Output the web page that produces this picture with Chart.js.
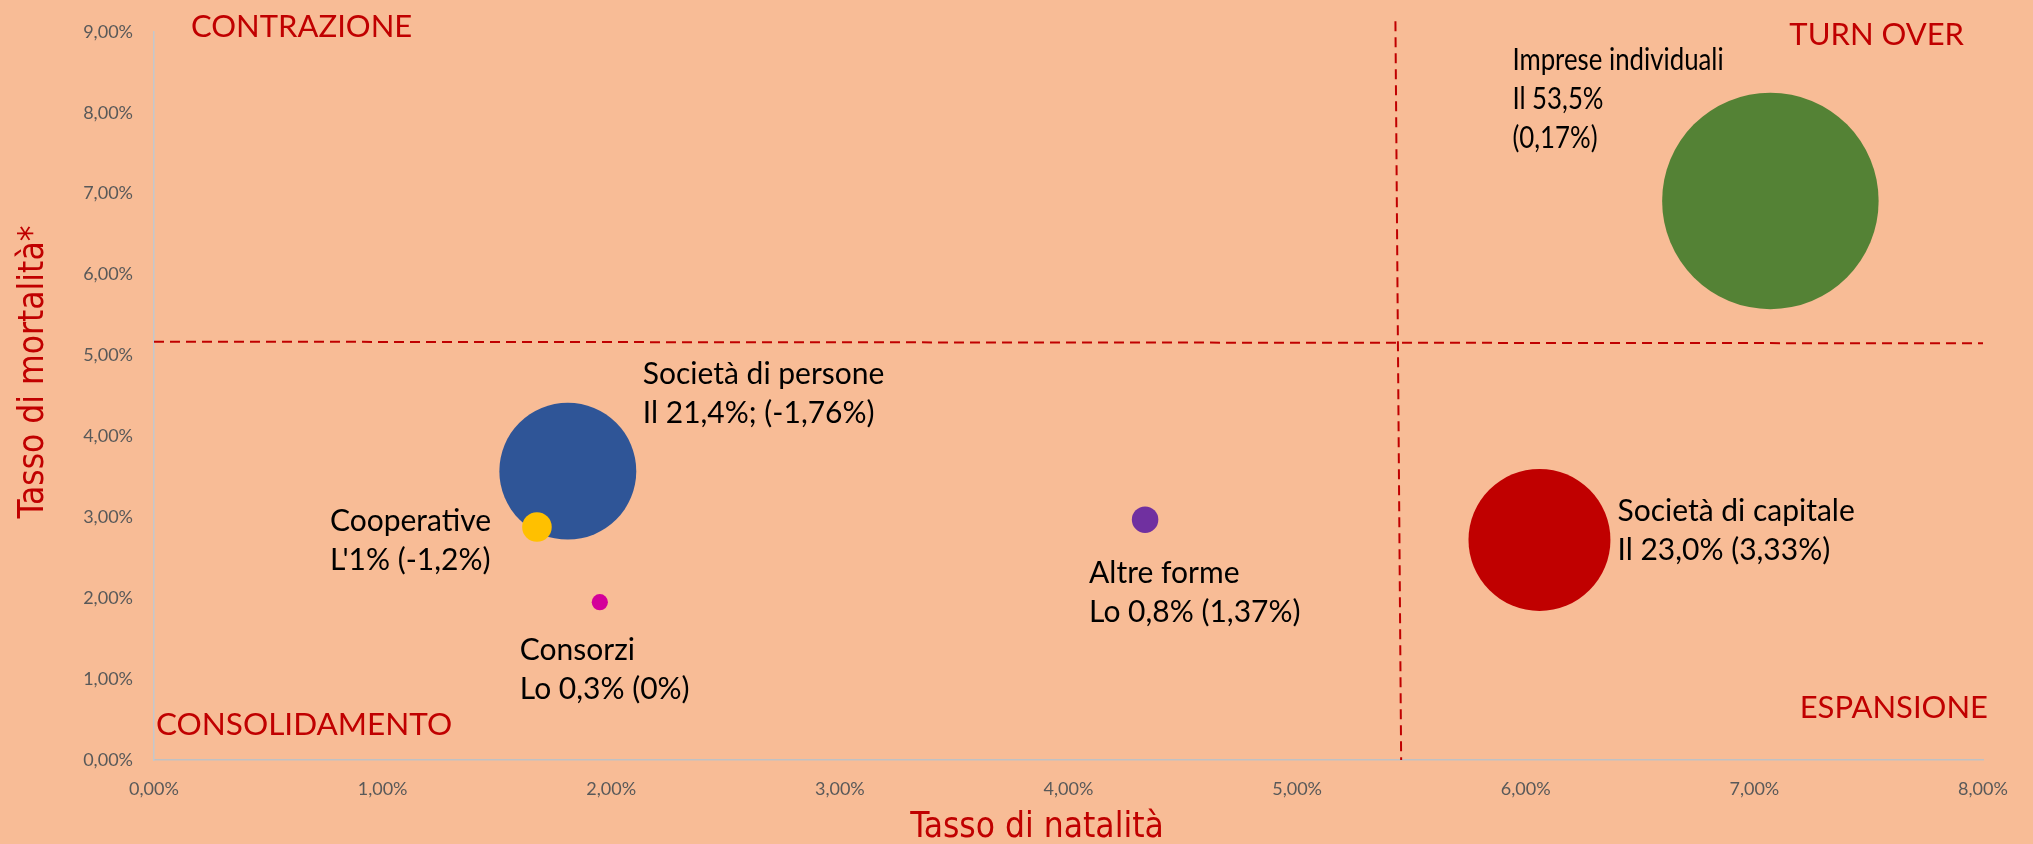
<!DOCTYPE html>
<html>
<head>
<meta charset="utf-8">
<script src="https://cdn.jsdelivr.net/npm/chart.js@4/dist/chart.umd.min.js"></script>
<style>
  html, body { margin: 0; padding: 0; background: #f8bc96; }
  #wrap { width: 2033px; height: 844px; }
</style>
</head>
<body>
<div id="wrap"><canvas id="chart"></canvas></div>
<script>
// forme giuridiche (bubble), tasso di natalità (x), tasso di mortalità (y), quota (size)
const categories = ['Imprese individuali', 'Società di persone', 'Società di capitale', 'Cooperative', 'Consorzi', 'Altre forme'];
const natalita = [7.07, 1.81, 6.06, 1.675, 1.95, 4.335];
const mortalita = [6.91, 3.57, 2.72, 2.88, 1.95, 2.97];
const quota = [53.5, 21.4, 23.0, 1, 0.3, 0.8];
const colors = ['#548235', '#2f5597', '#c00000', '#ffc000', '#d4009a', '#7030a0'];
const labelLines = [
    ['Imprese individuali', 'Il 53,5%', '(0,17%)'],
    ['Società di persone', 'Il 21,4%; (-1,76%)'],
    ['Società di capitale', 'Il 23,0% (3,33%)'],
    ['Cooperative', "L'1% (-1,2%)"],
    ['Consorzi', 'Lo 0,3% (0%)'],
    ['Altre forme', 'Lo 0,8% (1,37%)'],
];
// linee di separazione dei quadranti
const dividerV = [{ x: 5.43, y: 9.13 }, { x: 5.455, y: 0 }];
const dividerH = [{ x: 0, y: 5.17 }, { x: 8, y: 5.15 }];
const xTicks = [0, 1, 2, 3, 4, 5, 6, 7, 8];
const yTicks = [0, 1, 2, 3, 4, 5, 6, 7, 8, 9];

const RED = '#c00000';
const pct = (v) => v.toFixed(2).replace('.', ',') + '%';

// text offsets from bubble centre (left, first baseline) and horizontal squeeze
const labelOffsets = [[-258, -131], [75, -87], [78, -19], [-207, 4], [-80, 58], [-56, 63]];
const labelStretch = [0.86, 1, 1, 1, 1, 1];

const annotations = {
    id: 'annotations',
    afterDatasetsDraw(chart) {
        const { ctx, chartArea } = chart;
        const meta = chart.getDatasetMeta(2);
        ctx.save();
        ctx.fillStyle = '#000';
        ctx.textAlign = 'left';
        ctx.textBaseline = 'alphabetic';
        ctx.font = '30px Lato';
        meta.data.forEach((pt, i) => {
            const [dx, dy] = labelOffsets[i];
            ctx.save();
            ctx.translate(pt.x + dx, pt.y + dy);
            ctx.scale(labelStretch[i], 1);
            labelLines[i].forEach((line, j) => ctx.fillText(line, 0, j * 39));
            ctx.restore();
        });

        ctx.fillStyle = RED;
        ctx.font = '31px Lato';
        ctx.fillText('CONTRAZIONE', chartArea.left + 37, 37);
        ctx.font = '31.5px Lato';
        ctx.fillText('CONSOLIDAMENTO', chartArea.left + 2, 735);
        ctx.font = '31px Lato';
        ctx.textAlign = 'right';
        ctx.fillText('TURN OVER', 1964, 45);
        ctx.fillText('ESPANSIONE', 1988, 718);

        // axis titles
        ctx.font = '35px "Liberation Sans Narrow", "DejaVu Sans Condensed", sans-serif';
        ctx.textAlign = 'center';
        ctx.textBaseline = 'middle';
        ctx.fillText('Tasso di natalità', 1037, 828);
        ctx.translate(34, 372);
        ctx.rotate(-Math.PI / 2);
        ctx.fillText('Tasso di mortalità*', 0, 0);
        ctx.restore();
    }
};

const dashed = {
    type: 'line',
    borderColor: RED,
    borderWidth: 2,
    borderDash: [10, 6],
    pointRadius: 0,
    fill: false,
    clip: false,
};

new Chart(document.getElementById('chart'), {
    type: 'bubble',
    data: {
        datasets: [
            { ...dashed, data: dividerH },
            { ...dashed, data: dividerV },
            {
                label: 'Forme giuridiche',
                data: categories.map((c, i) => ({ x: natalita[i], y: mortalita[i] })),
                backgroundColor: colors,
                hoverBackgroundColor: colors,
                borderWidth: 0,
                hoverBorderWidth: 0,
                clip: false,
                radius: (ctx) => Math.sqrt(quota[ctx.dataIndex]) * 14.8,
            },
        ]
    },
    options: {
        responsive: true,
        maintainAspectRatio: false,
        animation: false,
        layout: { autoPadding: false, padding: { top: 28, right: 50, left: 0, bottom: 0 } },
        plugins: {
            legend: { display: false },
            tooltip: { enabled: false },
        },
        scales: {
            x: {
                type: 'linear',
                min: 0,
                max: 8,
                afterFit: (scale) => { scale.height = 84; },
                afterBuildTicks: (scale) => { scale.ticks = xTicks.map((v) => ({ value: v })); },
                grid: { display: false, drawTicks: false },
                border: { display: true, color: '#bfc1c4', width: 1.5 },
                ticks: {
                    padding: 18,
                    color: '#595959',
                    font: { family: 'Lato', size: 18 },
                    callback: (v) => pct(v),
                },
            },
            y: {
                type: 'linear',
                min: 0,
                max: 9,
                afterFit: (scale) => { scale.width = 154; },
                afterBuildTicks: (scale) => { scale.ticks = yTicks.map((v) => ({ value: v })); },
                grid: { display: false, drawTicks: false },
                border: { display: true, color: '#c3c7cc', width: 1.5 },
                ticks: {
                    padding: 21,
                    color: '#595959',
                    font: { family: 'Lato', size: 18 },
                    callback: (v) => pct(v),
                },
            },
        }
    },
    plugins: [annotations]
});
</script>
</body>
</html>
